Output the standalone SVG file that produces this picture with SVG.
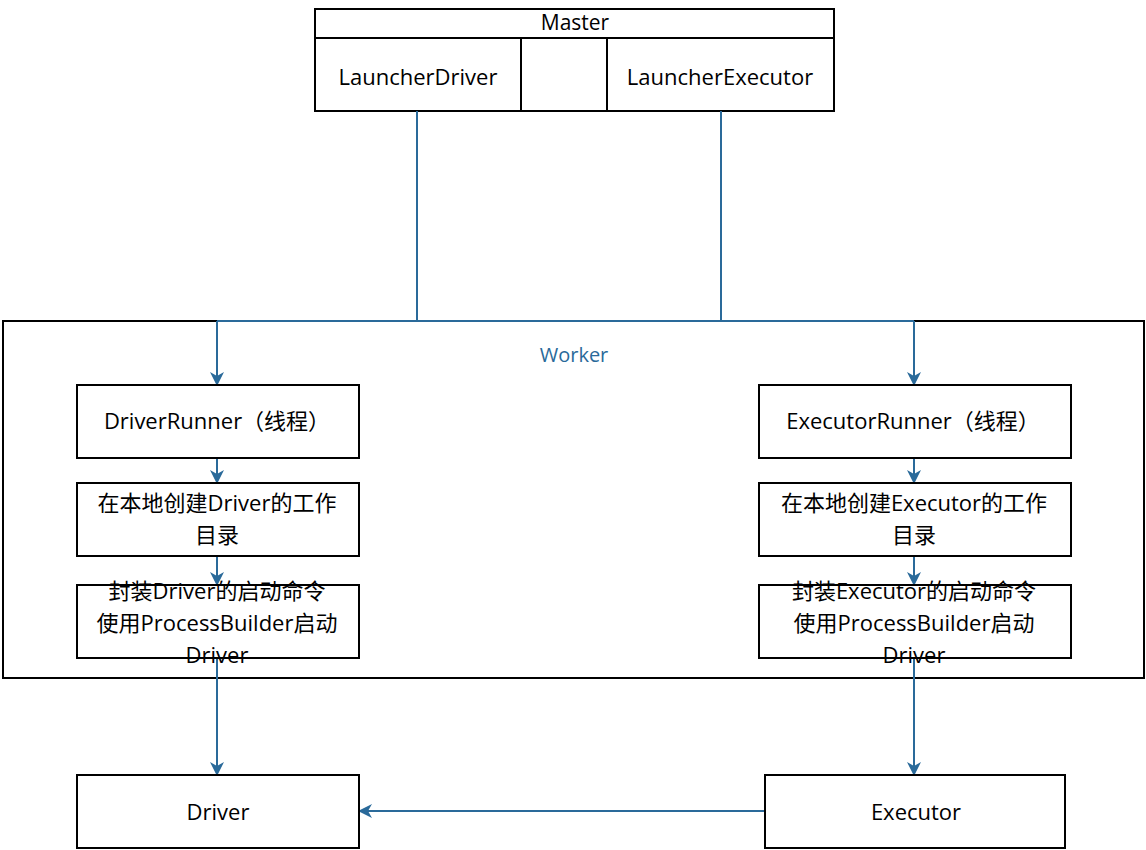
<svg xmlns="http://www.w3.org/2000/svg" width="1146" height="850" viewBox="0 0 1146 850">
<style>
.box{fill:#fff;stroke:#000;stroke-width:2}
.t{font-family:"Open Sans","Noto Sans CJK SC",sans-serif;font-size:22px;fill:#000;text-anchor:middle;dominant-baseline:central}
.c{fill:none;stroke:#2a6a9a;stroke-width:2}
</style>
<defs>
<marker id="ah" markerWidth="14" markerHeight="14" refX="13" refY="7" orient="auto" markerUnits="userSpaceOnUse" viewBox="0 0 14 14">
<path d="M0,0 L14,7 L0,14 L4,7 Z" fill="#2a6a9a"/>
</marker>
</defs>
<rect width="1146" height="850" fill="#fff"/>
<g id="worker">
<rect class="box" x="3" y="321" width="1141" height="357"/>
<text class="t" x="574" y="354" style="fill:#2a6a9a;font-size:20px">Worker</text>
</g>
<g id="master">
<rect class="box" x="315" y="9" width="519" height="102"/>
<line x1="315" y1="38" x2="834" y2="38" stroke="#000" stroke-width="2"/>
<text class="t" x="575" y="22" style="font-size:21px">Master</text>
</g>
<g id="launcherDriver">
<rect class="box" x="315" y="38" width="206" height="73"/>
<text class="t" x="418" y="76">LauncherDriver</text>
</g>
<g id="launcherExecutor">
<rect class="box" x="607" y="38" width="227" height="73"/>
<text class="t" x="720" y="76">LauncherExecutor</text>
</g>
<g id="connectors">
<path class="c" d="M417,111 V321"/>
<path class="c" d="M721,111 V321"/>
<path class="c" d="M217,321 H914"/>
<path class="c" d="M217,321 V385" marker-end="url(#ah)"/>
<path class="c" d="M914,321 V385" marker-end="url(#ah)"/>
<path class="c" d="M217,458 V483" marker-end="url(#ah)"/>
<path class="c" d="M914,458 V483" marker-end="url(#ah)"/>
<path class="c" d="M217,556 V585" marker-end="url(#ah)"/>
<path class="c" d="M914,556 V585" marker-end="url(#ah)"/>
<path class="c" d="M217,658 V775" marker-end="url(#ah)"/>
<path class="c" d="M914,658 V775" marker-end="url(#ah)"/>
<path class="c" d="M765,811 H359" marker-end="url(#ah)"/>
</g>
<g id="driverRunner">
<rect class="box" x="77" y="385" width="282" height="73"/>
<text class="t" x="217" y="420">DriverRunner（线程）</text>
</g>
<g id="driverDir">
<rect class="box" x="77" y="483" width="282" height="73"/>
<text class="t" x="217" y="502">在本地创建Driver的工作</text>
<text class="t" x="217" y="534">目录</text>
</g>
<g id="driverLaunch">
<rect class="box" x="77" y="585" width="282" height="73"/>
<text class="t" x="217" y="590">封装Driver的启动命令</text>
<text class="t" x="217" y="622">使用ProcessBuilder启动</text>
<text class="t" x="217" y="654">Driver</text>
</g>
<g id="executorRunner">
<rect class="box" x="759" y="385" width="312" height="73"/>
<text class="t" x="913" y="420">ExecutorRunner（线程）</text>
</g>
<g id="executorDir">
<rect class="box" x="759" y="483" width="312" height="73"/>
<text class="t" x="914" y="502">在本地创建Executor的工作</text>
<text class="t" x="914" y="534">目录</text>
</g>
<g id="executorLaunch">
<rect class="box" x="759" y="585" width="312" height="73"/>
<text class="t" x="914" y="590">封装Executor的启动命令</text>
<text class="t" x="914" y="622">使用ProcessBuilder启动</text>
<text class="t" x="914" y="654">Driver</text>
</g>
<g id="driver">
<rect class="box" x="77" y="775" width="282" height="73"/>
<text class="t" x="218" y="811">Driver</text>
</g>
<g id="executor">
<rect class="box" x="765" y="775" width="300" height="73"/>
<text class="t" x="916" y="811">Executor</text>
</g>
</svg>
